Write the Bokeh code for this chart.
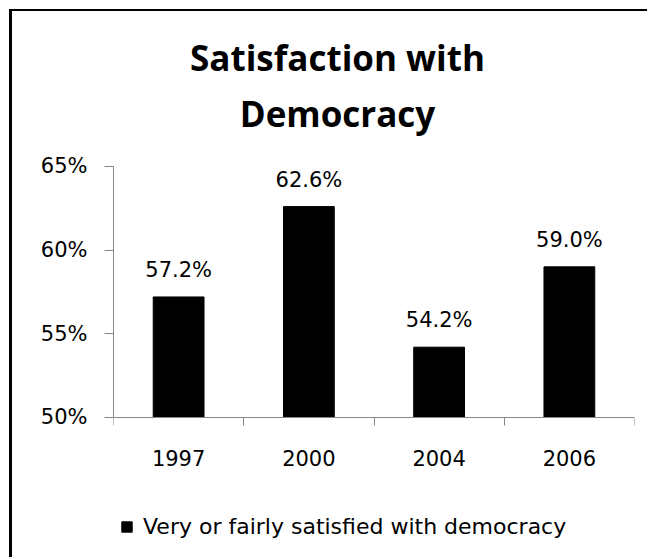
from bokeh.plotting import figure
from bokeh.models import (Range1d, FixedTicker, PrintfTickFormatter, Label,
                          Legend, LegendItem, ColumnDataSource)
from bokeh.core.properties import value
from bokeh.embed import file_html
from bokeh.resources import INLINE
import numpy as np

years = ["1997", "2000", "2004", "2006"]
satisfied = [57.2, 62.6, 54.2, 59.0]
y_ticks = [50, 55, 60, 65]
title_lines = ["Satisfaction with", "Democracy"]
series_name = "Very or fairly satisfied with democracy"

SMALL_FONT = "DejaVu Sans"
TITLE_FONT = "Open Sans"
AXIS_GREY = "#868686"

x_pos = np.arange(len(years)) + 0.5
source = ColumnDataSource(dict(
    x=x_pos,
    top=satisfied,
    label=[f"{v:.1f}%" for v in satisfied],
))

# The frame covers the full canvas height so that title and legend can sit
# inside it; the value axis itself only spans 50-65 %.
p = figure(width=638, height=548, output_backend="svg", toolbar_location=None,
           x_range=Range1d(0, len(years)), y_range=Range1d(41.51, 74.26),
           min_border_left=101, min_border_right=16,
           min_border_top=0, min_border_bottom=0)
p.styles = {"border-left": "3px solid black", "border-top": "2px solid black",
            "margin-left": "9px", "margin-top": "9px"}
p.outline_line_color = None
p.background_fill_color = "white"
p.border_fill_color = "white"
p.grid.grid_line_color = None

bars = p.vbar(x="x", top="top", bottom=y_ticks[0], width=0.39, source=source,
              fill_color="black", line_color="black")

p.text(x="x", y="top", text="label", source=source,
       text_align="center", text_baseline="alphabetic", y_offset=-27,
       text_font=value(SMALL_FONT), text_font_size="21px", text_color="black")

# y axis: percent ticks every 5 points
ya = p.yaxis[0]
ya.bounds = (y_ticks[0], y_ticks[-1])
ya.ticker = FixedTicker(ticks=y_ticks)
ya.formatter = PrintfTickFormatter(format="%d%%")
ya.axis_line_color = AXIS_GREY
ya.major_tick_line_color = AXIS_GREY
ya.major_tick_out = 9
ya.major_tick_in = 0
ya.minor_tick_line_color = None
ya.major_label_standoff = 17
ya.major_label_text_font = SMALL_FONT
ya.major_label_text_font_size = "21px"
ya.major_label_text_color = "black"

# x axis at the 50 % baseline: year labels at bar centres,
# tick marks at category boundaries
xa = p.xaxis[0]
xa.fixed_location = y_ticks[0]
xa.ticker = FixedTicker(ticks=list(x_pos), minor_ticks=list(range(len(years) + 1)))
xa.major_label_overrides = {float(x): y for x, y in zip(x_pos, years)}
xa.axis_line_color = AXIS_GREY
xa.major_tick_line_color = None
xa.major_tick_out = 0
xa.major_tick_in = 0
xa.minor_tick_line_color = AXIS_GREY
xa.minor_tick_out = 8
xa.minor_tick_in = 0
xa.major_label_standoff = 25
xa.major_label_text_font = SMALL_FONT
xa.major_label_text_font_size = "21px"
xa.major_label_text_color = "black"

# two-line chart title, baselines given in pixels above the canvas bottom
for text, ypix in zip(title_lines, [502, 446]):
    p.add_layout(Label(x=224, y=ypix, x_units="screen", y_units="screen",
                       text=text, text_align="center", text_baseline="alphabetic",
                       text_font=TITLE_FONT, text_font_style="bold",
                       text_font_size="35px", text_color="black"))

legend = Legend(items=[LegendItem(label=series_name, renderers=[bars])],
                location=(7, 20), orientation="horizontal",
                glyph_width=13, glyph_height=13, label_standoff=10,
                padding=0, margin=0, spacing=0,
                border_line_color=None, background_fill_alpha=0,
                label_text_font=SMALL_FONT, label_text_font_size="22px",
                label_text_color="black")
p.add_layout(legend, "center")

open("out.html", "w").write(file_html(p, INLINE))
